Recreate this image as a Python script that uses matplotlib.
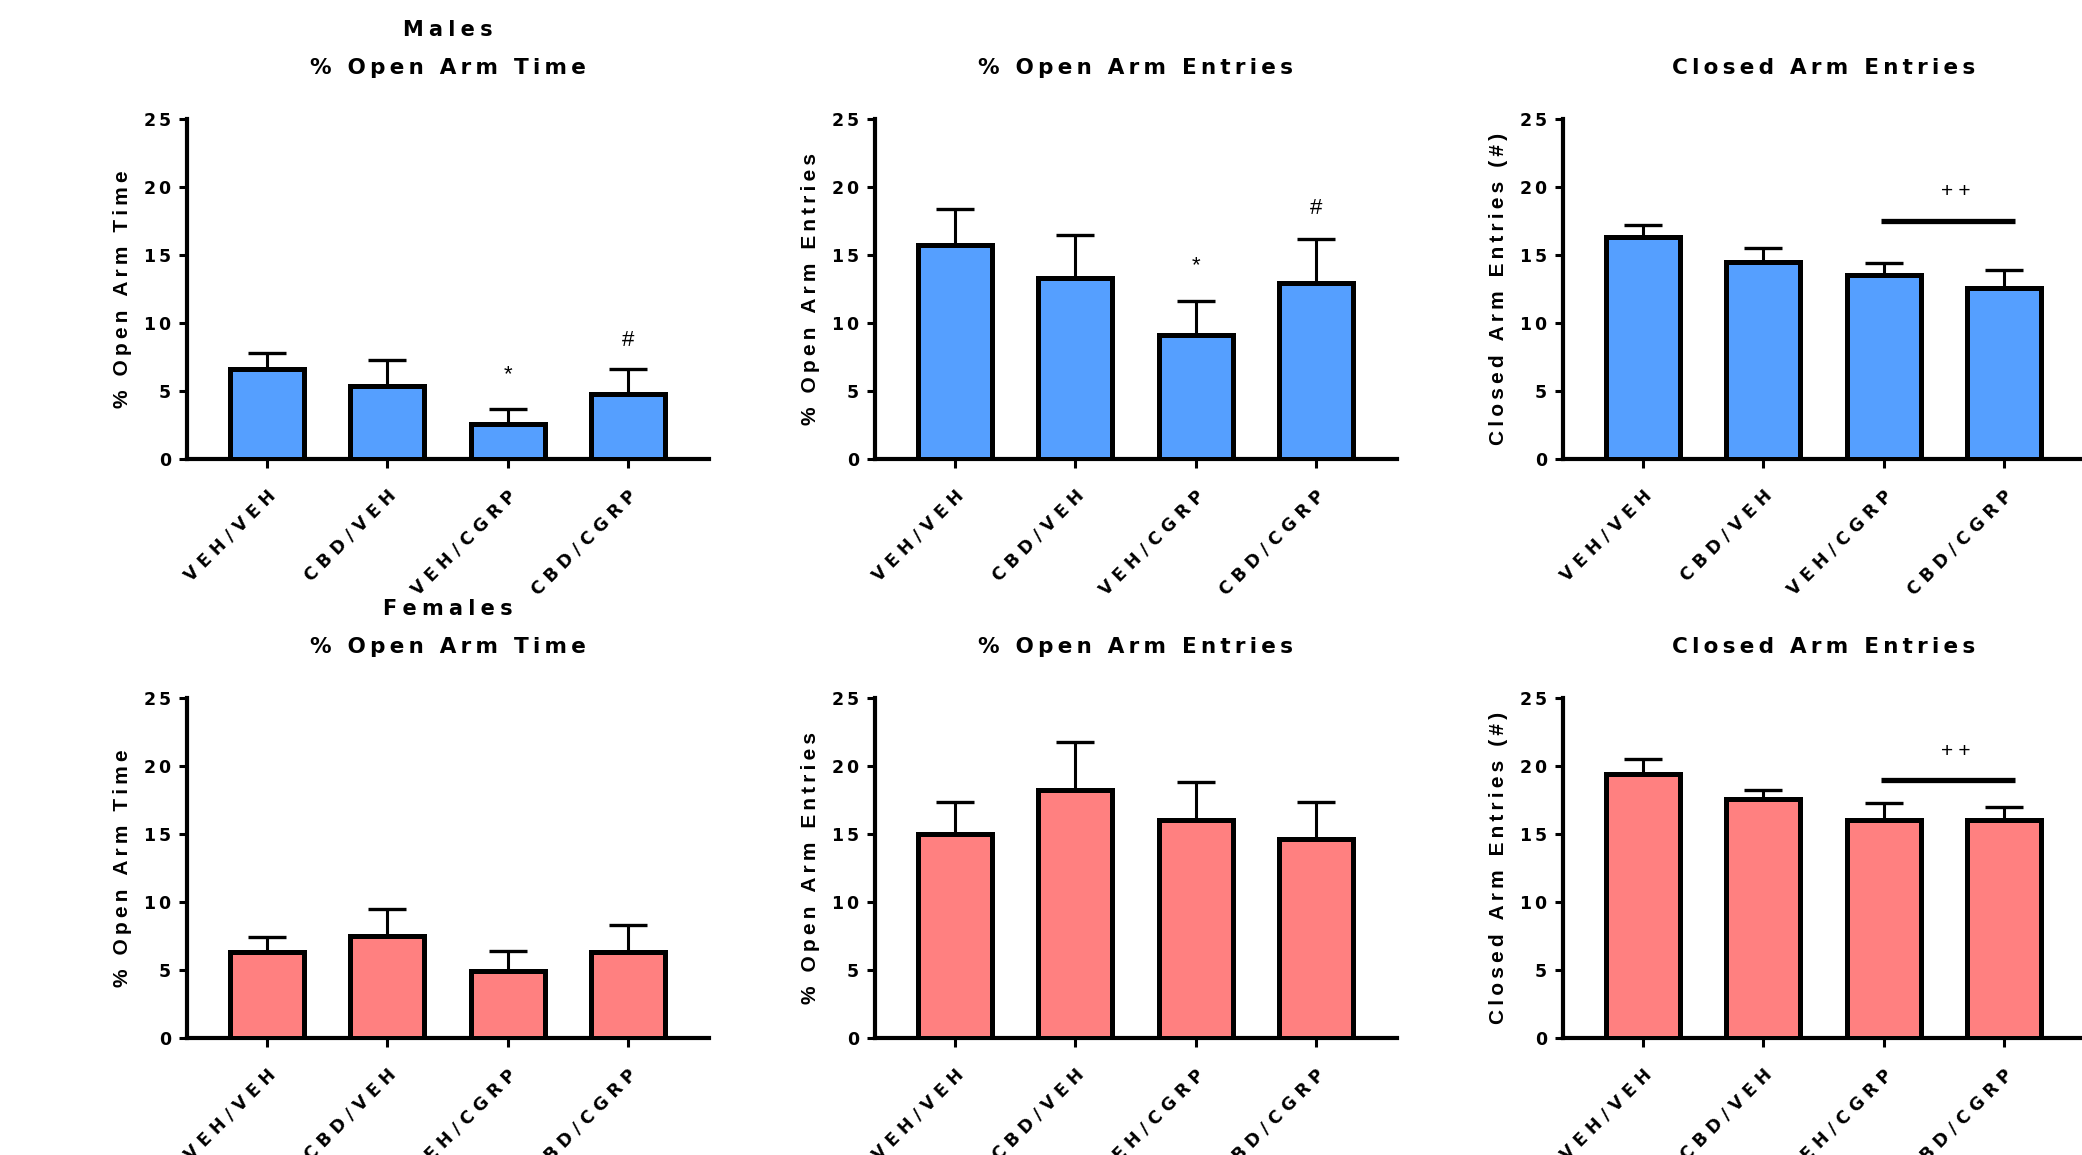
import matplotlib
matplotlib.use("Agg")
import matplotlib.pyplot as plt
from matplotlib.transforms import ScaledTranslation
import numpy as np

# ---- data -------------------------------------------------------------
groups = ["VEH/VEH", "CBD/VEH", "VEH/CGRP", "CBD/CGRP"]

male_open_time = [6.6, 5.4, 2.6, 4.8]
male_open_time_sem = [1.2, 1.85, 1.1, 1.8]
male_open_entries = [15.75, 13.3, 9.1, 12.95]
male_open_entries_sem = [2.65, 3.2, 2.5, 3.25]
male_closed_entries = [16.35, 14.5, 13.5, 12.6]
male_closed_entries_sem = [0.85, 1.0, 0.9, 1.3]

female_open_time = [6.3, 7.5, 4.95, 6.35]
female_open_time_sem = [1.1, 2.0, 1.45, 1.95]
female_open_entries = [15.0, 18.25, 16.0, 14.6]
female_open_entries_sem = [2.35, 3.55, 2.85, 2.75]
female_closed_entries = [19.4, 17.6, 16.05, 16.05]
female_closed_entries_sem = [1.1, 0.65, 1.2, 0.9]

titles = ["% Open Arm Time", "% Open Arm Entries", "Closed Arm Entries"]
ylabels = ["% Open Arm Time", "% Open Arm Entries", "Closed Arm Entries (#)"]
row_titles = ["Males", "Females"]
yticks = [0, 5, 10, 15, 20, 25]

# significance marks: (group index, y position, symbol)
male_marks = [[(2, 6.2, "*"), (3, 8.7, "#")],
              [(2, 14.2, "*"), (3, 18.45, "#")],
              []]
female_marks = [[], [], []]
# bracket between VEH/CGRP and CBD/CGRP: (line y, label y)
male_bracket = (17.5, 19.7)
female_bracket = (19.0, 21.1)

BLUE = "#559FFF"
PINK = "#FF8080"

# ---- layout helpers -----------------------------------------------------
W, H = 2082, 1155
fig = plt.figure(figsize=(W / 100, H / 100), dpi=100)

SANS_WIDE = ["DejaVu Sans"]
SANS = ["Liberation Sans", "DejaVu Sans"]


def spaced(s, gap):
    return gap.join(s)


def draw_panel(x0, ytop, means, sems, color, title, ylabel, marks, bracket,
               row_title=None):
    ax = fig.add_axes([x0 / W, 1 - (ytop + 340) / H, 522 / W, 340 / H])
    x = np.arange(len(groups))
    ax.errorbar(x, means, yerr=[np.zeros(len(means)), sems], fmt="none",
                ecolor="black", elinewidth=2.2, capsize=14, capthick=2.4,
                zorder=2)
    ax.bar(x, means, width=0.615, color=color, edgecolor="black",
           linewidth=3.6, zorder=3)

    ax.set_xlim(-0.665, 3.674)
    ax.set_ylim(0, 25)
    for side in ("top", "right"):
        ax.spines[side].set_visible(False)
    for side in ("left", "bottom"):
        ax.spines[side].set_linewidth(3.0)

    ax.set_yticks(yticks)
    ax.set_yticklabels([spaced(str(v), "\u2006") for v in yticks],
                       fontfamily=SANS_WIDE, fontweight="bold", fontsize=12.5)
    ax.set_xticks(x)
    ax.set_xticklabels([spaced(g, "\u2004") for g in groups],
                       fontfamily=SANS_WIDE, fontweight="bold", fontsize=12.5,
                       rotation=45, ha="right", va="center",
                       rotation_mode="anchor")
    ax.tick_params(axis="y", length=5.5, width=2.2, pad=6)
    ax.tick_params(axis="x", length=6.5, width=2.2, pad=18)
    shift = ScaledTranslation(6 / 100, 0, fig.dpi_scale_trans)
    for lab in ax.get_xticklabels():
        lab.set_transform(lab.get_transform() + shift)

    ax.set_ylabel(spaced(ylabel, "\u2009"), fontfamily=SANS,
                  fontweight="bold", fontsize=15, va="center")
    ax.yaxis.set_label_coords(-64 / 522, 0.5)

    ax.text(0.5, 1 + 51 / 340, spaced(title, "\u2009"),
            transform=ax.transAxes, ha="center", va="center",
            fontfamily=SANS_WIDE, fontweight="bold", fontsize=15.5)
    if row_title is not None:
        ax.text(0.5, 1 + 89 / 340, spaced(row_title, "\u2005"),
                transform=ax.transAxes, ha="center", va="center",
                fontfamily=SANS_WIDE, fontweight="bold", fontsize=15)

    for i, y, sym in marks:
        ax.text(i, y, sym, ha="center", va="center", fontfamily=SANS,
                fontsize=16)
    if bracket is not None:
        line_y, text_y = bracket
        ax.plot([1.98, 3.09], [line_y, line_y], color="black",
                linewidth=3.8, solid_capstyle="butt", zorder=4)
        ax.text(2.6, text_y, "+\u2005+", ha="center", va="center",
                fontfamily=SANS, fontsize=15)
    return ax


x_starts = [187, 875, 1563]
rows = [
    (119, BLUE, row_titles[0],
     [(male_open_time, male_open_time_sem),
      (male_open_entries, male_open_entries_sem),
      (male_closed_entries, male_closed_entries_sem)],
     male_marks, male_bracket),
    (698, PINK, row_titles[1],
     [(female_open_time, female_open_time_sem),
      (female_open_entries, female_open_entries_sem),
      (female_closed_entries, female_closed_entries_sem)],
     female_marks, female_bracket),
]

for ytop, color, rtitle, series, marks, bracket in rows:
    for k, (x0, (m, s)) in enumerate(zip(x_starts, series)):
        draw_panel(x0, ytop, m, s, color, titles[k], ylabels[k], marks[k],
                   bracket if k == 2 else None,
                   row_title=rtitle if k == 0 else None)

fig.savefig("out.png", dpi=100, facecolor="white")
